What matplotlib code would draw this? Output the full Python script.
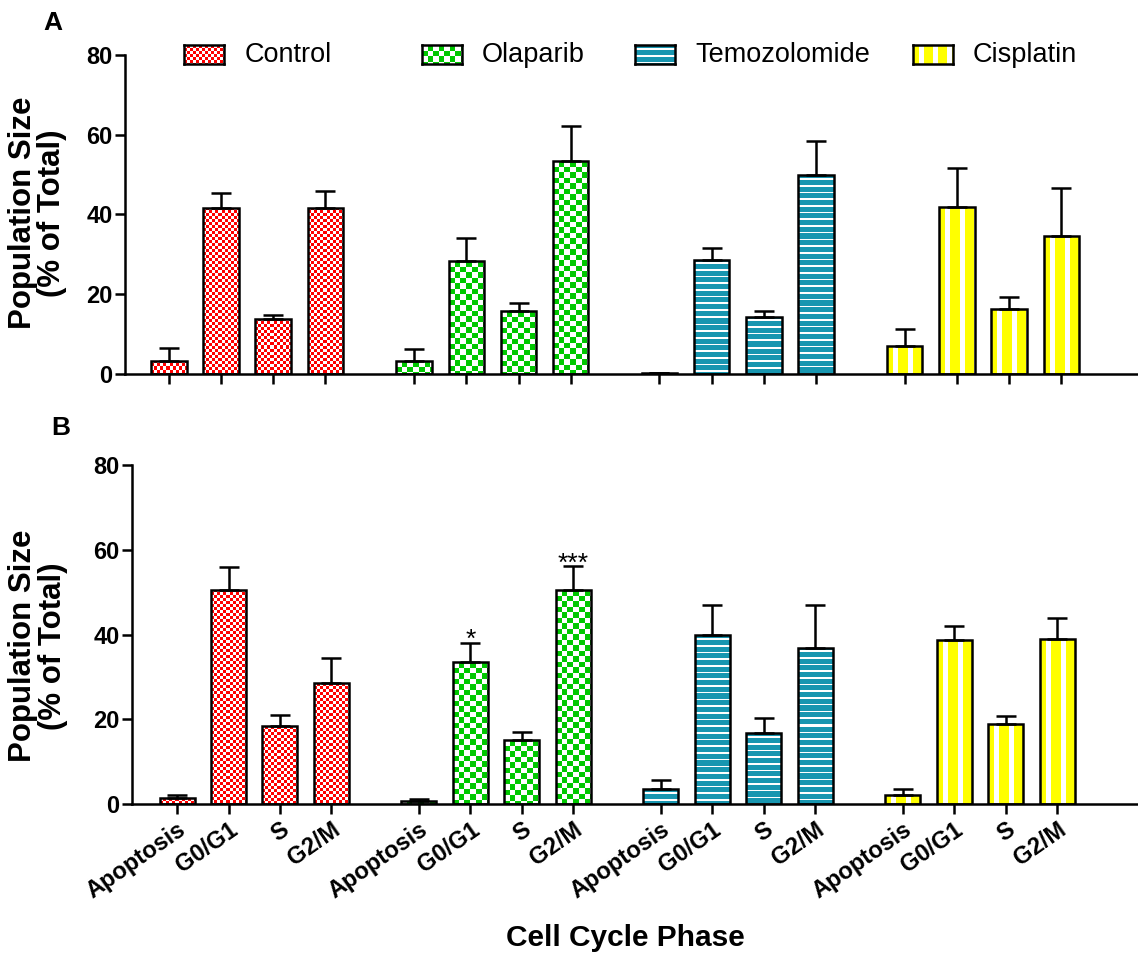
import matplotlib
matplotlib.use("Agg")
import matplotlib.pyplot as plt
import matplotlib.font_manager as fm
import numpy as np
from matplotlib.colors import to_rgb

# keep the condensed Liberation variant out of font matching
fm.fontManager.ttflist = [f for f in fm.fontManager.ttflist
                          if "Narrow" not in f.name and "Narrow" not in f.fname]

plt.rcParams["font.family"] = ["Liberation Sans", "DejaVu Sans"]
plt.rcParams["font.weight"] = "bold"
plt.rcParams["axes.labelweight"] = "bold"

# ── Data ────────────────────────────────────────────────────────────────
GROUPS = ["Control", "Olaparib", "Temozolomide", "Cisplatin"]
PHASES = ["Apoptosis", "G0/G1", "S", "G2/M"]

# Panel A: mean and upper SEM, one row per treatment
A_MEAN = [
    [3.3, 41.7, 13.8, 41.7],
    [3.2, 28.3, 15.7, 53.3],
    [0.3, 28.7, 14.3, 49.8],
    [7.0, 42.0, 16.2, 34.5],
]
A_ERR = [
    [3.2, 3.6, 1.0, 4.3],
    [3.0, 5.7, 2.2, 9.0],
    [0.0, 2.8, 1.5, 8.7],
    [4.3, 9.7, 3.0, 12.2],
]

# Panel B
B_MEAN = [
    [1.4, 50.6, 18.4, 28.5],
    [0.8, 33.4, 15.1, 50.5],
    [3.5, 39.8, 16.7, 36.9],
    [2.1, 38.6, 18.8, 39.0],
]
B_ERR = [
    [0.7, 5.4, 2.6, 5.9],
    [0.4, 4.6, 1.9, 5.6],
    [2.1, 7.2, 3.7, 10.0],
    [1.4, 3.5, 1.9, 5.0],
]
# significance marks in panel B: (group index, phase index, text)
B_STARS = [(1, 1, "*"), (1, 3, "***")]

YTICKS = [0, 20, 40, 60, 80]

# ── Style ───────────────────────────────────────────────────────────────
COLORS = {
    "Control": "#ff0000",
    "Olaparib": "#00c800",
    "Temozolomide": "#1896b0",
    "Cisplatin": "#ffff00",
}
GROUP_STEP = 4.7
BAR_W = 0.68
LW = 1.8
W, H = 1138, 955


def pattern(name, ny, nx):
    """RGB fill pattern (1 array pixel = 1 screen pixel)."""
    yy, xx = np.mgrid[0:ny, 0:nx]
    if name == "Control":
        mask = (xx // 3 + yy // 3) % 2 == 0
    elif name == "Olaparib":
        mask = (np.floor(xx / 5.5) + np.floor(yy / 5.5)) % 2 == 0
    elif name == "Temozolomide":
        mask = np.mod(yy + 4, 6.7) < 1.6
    else:
        mask = np.mod(xx + 8, 14) < 5
    base = np.array(to_rgb(COLORS[name]))
    white = np.ones(3)
    return np.where(mask[..., None], white, base)


def fill_bars(ax, bars, name):
    for bar in bars:
        x0, y0 = bar.get_x(), bar.get_y()
        w, h = bar.get_width(), bar.get_height()
        (px0, py0), (px1, py1) = ax.transData.transform([(x0, y0), (x0 + w, y0 + h)])
        nx = max(1, int(round(abs(px1 - px0))))
        ny = max(1, int(round(abs(py1 - py0))))
        im = ax.imshow(pattern(name, ny, nx), extent=(x0, x0 + w, y0, y0 + h),
                       aspect="auto", interpolation="nearest", zorder=2)
        im.set_clip_path(bar)


def px_rect(left, top, width, height):
    return [left / W, 1 - (top + height) / H, width / W, height / H]


def draw_panel(ax, means, errs, xlim, show_labels):
    ax.set_xlim(*xlim)
    ax.set_ylim(0, 80)
    positions = []
    for g, name in enumerate(GROUPS):
        x = g * GROUP_STEP + np.arange(len(PHASES))
        positions.extend(x)
        bars = ax.bar(x, means[g], BAR_W, facecolor="none", edgecolor="black",
                      linewidth=LW, zorder=3)
        fill_bars(ax, bars, name)
        ax.errorbar(x, means[g], yerr=[np.zeros(len(PHASES)), errs[g]],
                    fmt="none", ecolor="black", elinewidth=LW, capsize=7,
                    capthick=LW, zorder=4)

    ax.set_xticks(positions)
    if show_labels:
        ax.set_xticklabels(PHASES * len(GROUPS))
        plt.setp(ax.get_xticklabels(), rotation=35, ha="right", va="top",
                 rotation_mode="anchor", fontsize=19)
    else:
        ax.set_xticklabels([])
    ax.set_yticks(YTICKS)

    for side in ("top", "right"):
        ax.spines[side].set_visible(False)
    for side in ("left", "bottom"):
        ax.spines[side].set_linewidth(LW)
    ax.tick_params(axis="both", direction="out", length=7, width=LW,
                   labelsize=17, pad=2)
    ax.tick_params(axis="x", pad=3)
    ax.set_ylabel("Population Size\n(% of Total)", fontsize=22.5,
                  fontweight="bold", linespacing=0.97)
    return positions


fig = plt.figure(figsize=(W / 100, H / 100), dpi=100)

ax_a = fig.add_axes(px_rect(125, 55, W - 125, 374 - 55))
draw_panel(ax_a, A_MEAN, A_ERR, (-0.84, 18.57), show_labels=False)
ax_a.yaxis.set_label_coords(-0.057, 0.505)

ax_b = fig.add_axes(px_rect(132, 465, W - 132, 804 - 465))
pos_b = draw_panel(ax_b, B_MEAN, B_ERR, (-0.875, 18.67), show_labels=True)
ax_b.yaxis.set_label_coords(-0.064, 0.466)

for g, p, txt in B_STARS:
    x = g * GROUP_STEP + p
    ax_b.text(x, B_MEAN[g][p] + B_ERR[g][p] - 1.0, txt, ha="center",
              va="baseline", fontsize=19, fontweight="normal")

# panel letters and shared x label
fig.text(43 / W, 1 - 11 / H, "A", ha="left", va="top", fontsize=19)
fig.text(51 / W, 1 - 416 / H, "B", ha="left", va="top", fontsize=19)
fig.text(625 / W, 1 - 938 / H, "Cell Cycle Phase", ha="center", va="center",
         fontsize=21.5)

# legend drawn as small pattern swatches
LEGEND_PATCH_X = [184, 422, 635, 913]
LEGEND_TEXT_X = [245, 482, 695, 973]
for name, px, tx in zip(GROUPS, LEGEND_PATCH_X, LEGEND_TEXT_X):
    lax = fig.add_axes(px_rect(px, 45, 40, 19))
    lax.imshow(pattern(name, 19, 40), aspect="auto", interpolation="nearest")
    lax.set_xticks([])
    lax.set_yticks([])
    for s in lax.spines.values():
        s.set_linewidth(LW)
    fig.text(tx / W, 1 - 55 / H, name, ha="left", va="center", fontsize=19.5,
             fontweight="normal")

fig.savefig("out.png", dpi=100)
